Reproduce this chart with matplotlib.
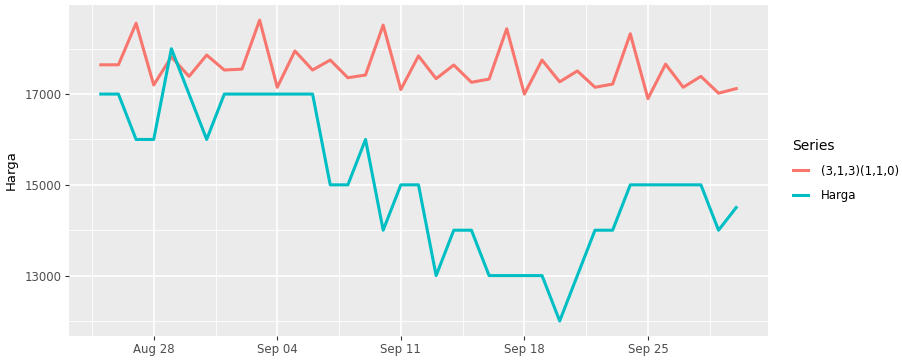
import numpy as np
import pandas as pd
import matplotlib.pyplot as plt
import matplotlib.dates as mdates

# data harian 25 Agustus - 30 September
tanggal = pd.date_range('2023-08-25', '2023-09-30', freq='D')

harga = [17000, 17000, 16000, 16000, 18000, 17000, 16000, 17000, 17000, 17000,
         17000, 17000, 17000, 15000, 15000, 16000, 14000, 15000, 15000, 13000,
         14000, 14000, 13000, 13000, 13000, 13000, 12000, 13000, 14000, 14000,
         15000, 15000, 15000, 15000, 15000, 14000, 14500]

ramalan = [17645, 17645, 18560, 17200, 17820, 17390, 17860, 17530, 17550, 18630,
           17150, 17950, 17530, 17750, 17360, 17420, 18520, 17100, 17840, 17340,
           17640, 17260, 17330, 18440, 17000, 17750, 17270, 17510, 17150, 17220,
           18330, 16900, 17660, 17150, 17390, 17020, 17120]

label_model = '(3,1,3)(1,1,0)'
y_major = [13000, 15000, 17000]
y_minor = [12000, 14000, 16000, 18000]

fig, ax = plt.subplots(figsize=(9.02, 3.62), dpi=100)
fig.subplots_adjust(left=0.0765, right=0.8514, bottom=0.0718, top=0.986)
ax.set_facecolor('#EBEBEB')

ax.plot(tanggal, ramalan, color='#F8766D', lw=2.2, label=label_model)
ax.plot(tanggal, harga, color='#00BFC4', lw=2.2, label='Harga')

# batas sumbu ala ggplot (ekspansi 5%)
pad_x = pd.Timedelta(days=0.05 * (tanggal[-1] - tanggal[0]).days)
ax.set_xlim(tanggal[0] - pad_x, tanggal[-1] + pad_x)
lo, hi = min(harga + ramalan), max(harga + ramalan)
ax.set_ylim(lo - 0.05 * (hi - lo), hi + 0.05 * (hi - lo))

# tick mingguan (Senin) + minor di tengahnya
mayor = pd.date_range('2023-08-21', '2023-10-02', freq='7D')
minor = mayor + pd.Timedelta(hours=84)
ax.xaxis.set_major_locator(mdates.WeekdayLocator(byweekday=mdates.MO))
ax.xaxis.set_major_formatter(mdates.DateFormatter('%b %d'))
ax.xaxis.set_minor_locator(plt.FixedLocator(mdates.date2num(minor)))
ax.set_yticks(y_major)
ax.set_yticks(y_minor, minor=True)

ax.grid(which='major', color='white', lw=1.2)
ax.grid(which='minor', color='white', lw=0.6)
ax.set_axisbelow(True)
for s in ax.spines.values():
    s.set_visible(False)

ax.tick_params(which='major', length=3, width=0.8, color='#333333',
               labelcolor='#4D4D4D', labelsize=8.5, pad=2)
ax.tick_params(which='minor', length=0)

ax.set_ylabel('Harga', fontsize=9.5)
ax.yaxis.set_label_coords(-0.073, 0.5)

ax.legend(loc='center left', bbox_to_anchor=(1.02, 0.5), frameon=False,
          title='Series', alignment='left', fontsize=8.5, title_fontsize=10,
          handlelength=1.3, handletextpad=1.1, labelspacing=1.0)

fig.savefig('out.png', dpi=100)
